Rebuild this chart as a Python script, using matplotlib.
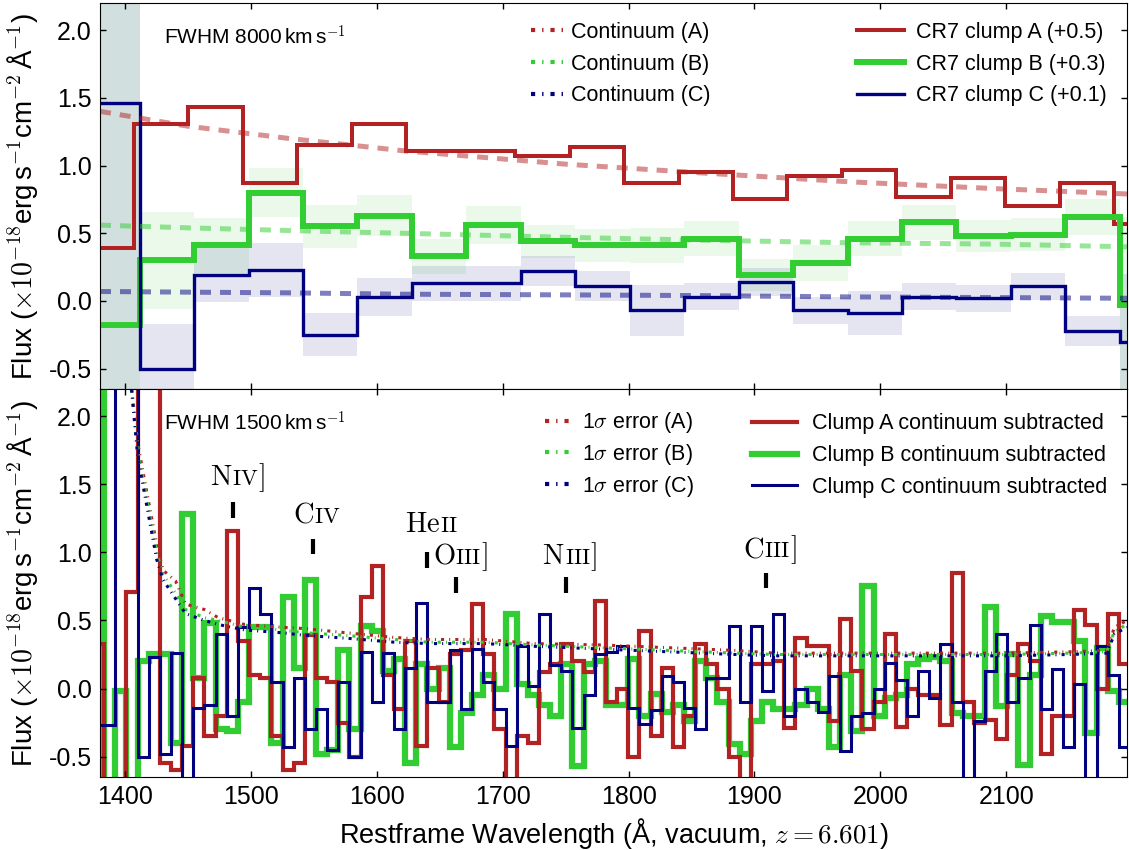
import numpy as np
import matplotlib
matplotlib.use('Agg')
import matplotlib.pyplot as plt
from matplotlib.lines import Line2D
from matplotlib.offsetbox import TextArea, HPacker, AnnotationBbox

plt.rcParams['font.family'] = ['Liberation Sans', 'DejaVu Sans']
plt.rcParams['mathtext.fontset'] = 'cm'
plt.rcParams['axes.unicode_minus'] = False

red = '#b22222'
green = '#32cd32'
blue = '#000080'

# ---- top panel: FWHM 8000 km/s binned spectra (offsets already added)
top_edges_a = 1363.7 + 43.27 * np.arange(21)
top_edges_bc = 1368.2 + 43.27 * np.arange(21)
top_a = [0.39, 1.31, 1.43, 0.87, 1.15, 1.31, 1.11, 1.11, 1.07, 1.14,
         0.87, 0.95, 0.75, 0.92, 0.97, 0.77, 0.91, 0.70, 0.87, 0.57]
top_b = [-0.18, 0.30, 0.41, 0.80, 0.55, 0.63, 0.33, 0.56, 0.44, 0.41,
         0.41, 0.46, 0.19, 0.28, 0.46, 0.58, 0.48, 0.49, 0.62, -0.03]
top_c = [1.46, -0.50, 0.19, 0.23, -0.25, 0.03, 0.13, 0.13, 0.22, 0.11,
         -0.07, 0.03, 0.14, -0.07, -0.09, 0.03, 0.02, 0.11, -0.22, -0.30]
top_b_err = [3.0, 0.36, 0.20, 0.18, 0.16, 0.15, 0.13, 0.14, 0.12, 0.12,
             0.13, 0.13, 0.12, 0.13, 0.13, 0.13, 0.12, 0.12, 0.13, 0.65]
top_c_err = [3.0, 0.33, 0.20, 0.20, 0.16, 0.14, 0.13, 0.13, 0.11, 0.11,
             0.19, 0.10, 0.10, 0.10, 0.16, 0.10, 0.10, 0.10, 0.11, 0.50]

cont_wave = [1380, 1450, 1530, 1620, 1750, 1850, 1975, 2090, 2196]
cont_a = [1.40, 1.29, 1.20, 1.11, 1.01, 0.95, 0.88, 0.83, 0.79]
cont_b = [0.56, 0.54, 0.52, 0.50, 0.47, 0.45, 0.43, 0.42, 0.40]
cont_c = [0.07, 0.065, 0.06, 0.05, 0.045, 0.04, 0.03, 0.025, 0.02]

# ---- bottom panel: FWHM 1500 km/s, continuum subtracted
bot_edges = 1374.4 + 8.86 * np.arange(94)
sub_a = [0.33, -1.0, -1.0, 0.71, 3.0, 3.0, -0.55, -0.6, -0.42, 0.08,
         -0.35, -0.2, 1.16, 0.35, 0.1, 0.08, -0.35, -0.6, -0.55, 0.39,
         0.08, 0.05, -0.25, -0.5, 0.67, 0.9, 0.1, -0.15, 0.35, -0.42,
         0.15, -0.1, 0.25, 0.28, 0.62, 0.25, -0.3, -0.8, -0.35, -0.4,
         0.12, 0.18, 0.33, 0.2, 0.12, 0.64, -0.1, 0.0, -0.5, 0.42,
         -0.35, 0.15, -0.43, -0.2, 0.33, 0.18, 0.0, -0.5, -0.8, 0.18,
         0.18, 0.2, -0.29, 0.37, 0.31, 0.31, -0.24, 0.51, 0.13, -0.3,
         -0.1, 0.4, -0.28, 0.0, -0.05, -0.05, -0.27, 0.85, -0.1, -0.25,
         -0.23, -0.37, 0.1, 0.33, 0.2, -0.48, -0.2, -0.2, 0.58, 0.47,
         0.0, 0.55, 0.18]
sub_b = [3.0, -1.0, -0.02, -1.0, 0.2, 0.25, 0.25, -0.4, 1.28, 0.08,
         0.48, -0.3, -0.31, -0.1, 0.45, 0.45, -0.4, 0.67, 0.15, 0.8,
         -0.48, -0.45, 0.28, -0.3, 0.46, 0.42, 0.13, 0.22, -0.55, 0.18,
         0.0, 0.15, -0.43, -0.18, -0.05, 0.1, 0.0, 0.55, 0.03, -0.05,
         -0.12, -0.2, 0.18, -0.57, 0.18, 0.2, -0.12, -0.12, 0.22, -0.2,
         -0.04, -0.17, -0.12, -0.24, 0.2, 0.08, -0.1, -0.41, -0.48, -0.24,
         -0.1, -0.15, -0.15, -0.12, 0.0, -0.15, -0.43, 0.1, -0.31, 0.75,
         -0.2, -0.07, -0.05, 0.18, 0.22, 0.23, 0.2, -0.18, -0.2, -0.2,
         0.6, -0.13, 0.25, -0.56, 0.1, 0.53, 0.49, 0.49, 0.35, -0.33,
         0.3, -0.02, -0.1]
sub_c = [-0.27, -0.27, 3.0, 3.0, -0.5, 0.23, -0.48, 0.26, -0.7, -0.14,
         -0.12, 0.4, -0.2, 0.45, 0.74, 0.55, 0.05, -0.43, 0.08, -0.3,
         -0.15, -0.45, 0.05, -0.5, 0.27, -0.1, 0.26, -0.3, 0.15, 0.63,
         -0.1, -0.1, 0.28, -0.15, 0.29, 0.05, -0.15, -0.42, 0.31, 0.02,
         0.55, 0.17, 0.13, -0.29, -0.05, 0.25, 0.27, 0.31, -0.14, -0.26,
         -0.16, 0.09, 0.05, -0.14, -0.3, 0.08, 0.08, 0.46, -0.1, 0.46,
         -0.02, 0.55, -0.2, 0.0, -0.1, -0.17, 0.09, -0.46, -0.2, -0.18,
         0.0, 0.19, 0.06, -0.2, 0.13, -0.07, 0.33, -0.1, -0.8, -0.24,
         0.13, 0.4, -0.1, 0.08, 0.47, -0.15, 0.14, -0.43, 0.03, -0.8,
         0.31, 0.1, -0.43]

err_wave = [1404, 1410, 1416, 1425, 1430, 1440, 1448, 1463, 1474, 1495,
            1524, 1543, 1575, 1614, 1641, 1686, 1725, 1778, 1831, 1884,
            1916, 2000, 2048, 2101, 2151, 2180, 2186, 2196]
err_a = [2.3, 1.8, 1.5, 1.06, 0.87, 0.79, 0.62, 0.58, 0.52, 0.47,
         0.45, 0.44, 0.41, 0.375, 0.36, 0.36, 0.33, 0.32, 0.30, 0.28,
         0.26, 0.26, 0.26, 0.26, 0.27, 0.28, 0.45, 0.50]
err_b = [2.3, 1.75, 1.45, 1.0, 0.84, 0.70, 0.58, 0.52, 0.50, 0.45,
         0.43, 0.41, 0.39, 0.36, 0.34, 0.34, 0.32, 0.30, 0.28, 0.26,
         0.25, 0.25, 0.25, 0.25, 0.26, 0.27, 0.42, 0.47]
err_c = [2.3, 1.7, 1.4, 0.95, 0.80, 0.66, 0.55, 0.50, 0.47, 0.43,
         0.41, 0.39, 0.37, 0.34, 0.33, 0.33, 0.31, 0.29, 0.27, 0.25,
         0.24, 0.24, 0.24, 0.24, 0.25, 0.26, 0.40, 0.45]

# emission line markers
line_elem = ['N', 'C', 'He', 'O', 'N', 'C']
line_ion = ['IV', 'IV', 'II', 'III', 'III', 'III']
line_close = [']', '', '', ']', ']', ']']
line_wave = [1486, 1549, 1640, 1663, 1750, 1909]
line_top = [1.37, 1.10, 1.00, 0.82, 0.82, 0.85]
label_y = [1.55, 1.27, 1.20, 0.97, 0.97, 1.02]

# old-style dash-dot: 3pt dash, 5pt gap, 1pt dot at lw=3
dashdot = (0, (1.0, 1.67, 0.33, 1.67))

fig = plt.figure(figsize=(11.29, 8.5), dpi=100)
ax1 = fig.add_axes([100 / 1129, 461 / 850, 1027 / 1129, 386 / 850])
ax2 = fig.add_axes([100 / 1129, 73 / 850, 1027 / 1129, 388 / 850])

# top panel
b = np.array(top_b)
c = np.array(top_c)
ax1.stairs(b + np.array(top_b_err), top_edges_bc, baseline=b - np.array(top_b_err),
           fill=True, color=green, alpha=0.1, lw=0)
ax1.stairs(c + np.array(top_c_err), top_edges_bc, baseline=c - np.array(top_c_err),
           fill=True, color=blue, alpha=0.1, lw=0)
ax1.stairs(top_a, top_edges_a, baseline=None, color=red, lw=2.9)
ax1.stairs(top_b, top_edges_bc, baseline=None, color=green, lw=4.3)
ax1.stairs(top_c, top_edges_bc, baseline=None, color=blue, lw=2.4)
for cv, col in [(cont_a, red), (cont_b, green), (cont_c, blue)]:
    ax1.plot(cont_wave, cv, color=col, alpha=0.5, lw=3.6, ls=(0, (2.2, 1.8)))

ax1.text(0.062, 0.912, r'FWHM 8000$\,$km$\,$s$^{-1}$', transform=ax1.transAxes,
         fontsize=15, va='center')

h_cont = [Line2D([], [], color=col, ls=dashdot, lw=3) for col in (red, green, blue)]
leg1 = ax1.legend(h_cont, ['Continuum (A)', 'Continuum (B)', 'Continuum (C)'],
                  loc='upper left', bbox_to_anchor=(0.42, 0.951), frameon=False,
                  fontsize=15.5, handlelength=1.45, handletextpad=0.4,
                  borderpad=0, borderaxespad=0, labelspacing=0.5)
ax1.add_artist(leg1)
h_clump = [Line2D([], [], color=red, lw=2.9), Line2D([], [], color=green, lw=4.3),
           Line2D([], [], color=blue, lw=2.4)]
ax1.legend(h_clump, ['CR7 clump A (+0.5)', 'CR7 clump B (+0.3)', 'CR7 clump C (+0.1)'],
           loc='upper left', bbox_to_anchor=(0.737, 0.951), frameon=False,
           fontsize=15.5, handlelength=2.2, handletextpad=0.55,
           borderpad=0, borderaxespad=0, labelspacing=0.5)

# bottom panel
ax2.stairs(sub_b, bot_edges, baseline=None, color=green, lw=4.5)
ax2.stairs(sub_a, bot_edges, baseline=None, color=red, lw=3.0)
ax2.stairs(sub_c, bot_edges, baseline=None, color=blue, lw=2.2)
ax2.plot(err_wave, err_a, color=red, ls=dashdot, lw=2.2)
ax2.plot(err_wave, err_b, color=green, ls=dashdot, lw=2.2)
ax2.plot(err_wave, err_c, color=blue, ls=dashdot, lw=2.2)

ax2.text(0.062, 0.913, r'FWHM 1500$\,$km$\,$s$^{-1}$', transform=ax2.transAxes,
         fontsize=15, va='center')

for el, ion, cl, w, top, ly in zip(line_elem, line_ion, line_close, line_wave,
                                   line_top, label_y):
    ax2.plot([w, w], [top - 0.115, top], color='k', lw=3, solid_capstyle='butt')
    parts = [TextArea(r'$\mathrm{%s}$' % el, textprops=dict(fontsize=20.5)),
             TextArea(r'$\mathrm{%s}$' % ion, textprops=dict(fontsize=16))]
    if cl:
        parts.append(TextArea(r'$%s$' % cl, textprops=dict(fontsize=20.5)))
    box = HPacker(children=parts, align='baseline', pad=0, sep=0)
    ab = AnnotationBbox(box, (w + 3, ly), xycoords='data', frameon=False,
                        box_alignment=(0.5, 0.5), pad=0)
    ax2.add_artist(ab)

h_err = [Line2D([], [], color=col, ls=dashdot, lw=3) for col in (red, green, blue)]
leg3 = ax2.legend(h_err, [r'1$\sigma$ error (A)', r'1$\sigma$ error (B)', r'1$\sigma$ error (C)'],
                  loc='upper left', bbox_to_anchor=(0.433, 0.945), frameon=False,
                  fontsize=15.5, handlelength=1.3, handletextpad=0.45,
                  borderpad=0, borderaxespad=0, labelspacing=0.31)
ax2.add_artist(leg3)
h_sub = [Line2D([], [], color=red, lw=3.0), Line2D([], [], color=green, lw=4.5),
         Line2D([], [], color=blue, lw=2.2)]
ax2.legend(h_sub, ['Clump A continuum subtracted', 'Clump B continuum subtracted',
                   'Clump C continuum subtracted'],
           loc='upper left', bbox_to_anchor=(0.635, 0.937), frameon=False,
           fontsize=15.5, handlelength=2.1, handletextpad=0.7,
           borderpad=0, borderaxespad=0, labelspacing=0.5)

ylab = r'Flux ($\times10^{-18}$erg$\,$s$^{-1}$cm$^{-2}\,$Å$^{-1}$)'
for ax in (ax1, ax2):
    ax.set_xlim(1380, 2196)
    ax.set_ylim(-0.65, 2.2)
    ax.set_yticks([-0.5, 0.0, 0.5, 1.0, 1.5, 2.0])
    ax.set_xticks([1400, 1500, 1600, 1700, 1800, 1900, 2000, 2100])
    ax.tick_params(direction='in', top=True, right=True, length=4, width=1,
                   labelsize=18, pad=6)
    ax.set_ylabel(ylab, fontsize=20)
    ax.yaxis.set_label_coords(-0.058, 0.5)
ax1.tick_params(labelbottom=False)
ax2.set_xlabel(r'Restframe Wavelength (Å, vacuum, $z=6.601$)', fontsize=19.5)
ax2.xaxis.set_label_coords(0.5, -0.1)

fig.savefig('out.png', dpi=100)
